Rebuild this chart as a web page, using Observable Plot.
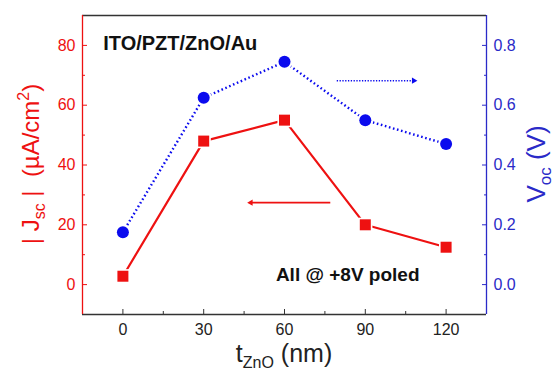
<!DOCTYPE html>
<html>
<head>
<meta charset="utf-8">
<script src="https://cdn.jsdelivr.net/npm/d3@7"></script>
<script src="https://cdn.jsdelivr.net/npm/@observablehq/plot@0.6"></script>
<style>
  html, body { margin: 0; padding: 0; background: #fff; }
  svg { display: block; }
</style>
</head>
<body>
<div id="chart"></div>
<script>
// ---- data ----
const thickness = [0, 30, 60, 90, 120];            // t_ZnO (nm)
const jsc = [2.8, 48, 55, 20, 12.5];                // |Jsc| (µA/cm²)
const voc = [0.175, 0.625, 0.745, 0.55, 0.47];      // Voc (V)

const xTicks = [0, 30, 60, 90, 120];
const xMinor = [15, 45, 75, 105];
const jTicks = [0, 20, 40, 60, 80];
const jMinor = [10, 30, 50, 70];
const vTicks = [0, 0.2, 0.4, 0.6, 0.8];
const vMinor = [0.1, 0.3, 0.5, 0.7];

const xDomain = [-15, 135];
const jDomain = [-10, 90];
const vDomain = [-0.1, 0.9];

// annotations (data units)
const labelStack = ["ITO/PZT/ZnO/Au"];
const labelPoled = ["All @ +8V poled"];
const redArrow = {from: 77, to: 47.5, j: 27.4};
const blueArrow = {from: 79.4, to: 108, v: 0.682};

// ---- styles ----
const RED = "#ee1111";
const BLUE = "#0b0bee";
const BLUE_AX = "#2a2ac8";
const FONT = "Liberation Sans, Arial, Helvetica, sans-serif";

const vToJ = d3.scaleLinear(vDomain, jDomain);
const rows = thickness.map((t, i) => ({t, j: jsc[i], v: voc[i]}));

const svg = Plot.plot({
  width: 556,
  height: 371,
  marginLeft: 82,
  marginRight: 70,
  marginTop: 15,
  marginBottom: 57,
  style: {fontFamily: FONT, background: "#fff", overflow: "visible"},
  x: {domain: xDomain},
  y: {domain: jDomain},
  marks: [
    // frame
    Plot.ruleY([jDomain[1]], {stroke: "#333", strokeWidth: 1.3}),
    Plot.ruleY([jDomain[0]], {stroke: "#333", strokeWidth: 1.3}),
    Plot.ruleX([xDomain[0]], {stroke: RED, strokeWidth: 1.3}),
    Plot.ruleX([xDomain[1]], {stroke: BLUE_AX, strokeWidth: 1.3}),
    // x axis
    Plot.axisX(xTicks, {tickSize: -5, fill: "none", stroke: "#333", label: null}),
    Plot.axisX(xMinor, {tickSize: -3, fill: "none", stroke: "#333", label: null}),
    Plot.axisX(xTicks, {tickSize: 0, tickPadding: 9, fontSize: 16, fill: "#222", label: null}),
    // left axis
    Plot.axisY(jTicks, {anchor: "left", tickSize: -5, fill: "none", stroke: RED, label: null}),
    Plot.axisY(jMinor, {anchor: "left", tickSize: -3, fill: "none", stroke: RED, label: null}),
    Plot.axisY(jTicks, {anchor: "left", tickSize: 0, tickPadding: 7, fontSize: 16, fill: RED, label: null}),
    // right axis
    Plot.axisY(vTicks.map(vToJ), {anchor: "right", tickSize: -5, fill: "none", stroke: BLUE_AX, label: null}),
    Plot.axisY(vMinor.map(vToJ), {anchor: "right", tickSize: -3, fill: "none", stroke: BLUE_AX, label: null}),
    Plot.axisY(vTicks.map(vToJ), {anchor: "right", tickSize: 0, tickPadding: 7, fontSize: 16, fill: BLUE_AX,
      tickFormat: d => vToJ.invert(d).toFixed(1), label: null}),
    // series lines
    Plot.line(rows, {x: "t", y: "j", stroke: RED, strokeWidth: 2.2}),
    Plot.line(rows, {x: "t", y: d => vToJ(d.v), stroke: BLUE, strokeWidth: 2.4,
      strokeDasharray: "1.6,2.6", strokeLinecap: "butt"}),
    // markers with white halo (gap)
    Plot.dot(rows, {x: "t", y: "j", symbol: "square", r: 8, fill: "white"}),
    Plot.dot(rows, {x: "t", y: "j", symbol: "square", r: 6.2, fill: RED}),
    Plot.dot(rows, {x: "t", y: d => vToJ(d.v), r: 8, fill: "white"}),
    Plot.dot(rows, {x: "t", y: d => vToJ(d.v), r: 6, fill: BLUE}),
    // arrows
    Plot.link([redArrow], {x1: "from", x2: "to", y1: "j", y2: "j", stroke: RED, strokeWidth: 1.6}),
    Plot.dot([redArrow], {x: "to", y: "j", symbol: "triangle2", r: 3, fill: RED, rotate: -90}),
    Plot.link([blueArrow], {x1: "from", x2: "to", y1: d => vToJ(d.v), y2: d => vToJ(d.v), stroke: BLUE,
      strokeWidth: 1.6, strokeDasharray: "1.3,1.5", strokeLinecap: "butt"}),
    Plot.dot([blueArrow], {x: "to", y: d => vToJ(d.v), symbol: "triangle2", r: 3, fill: BLUE, rotate: 90}),
    // annotations
    Plot.text(labelStack, {x: -7.3, y: 78.3, text: d => d, textAnchor: "start", lineAnchor: "bottom",
      fontSize: 20, fontWeight: "bold", fill: "#111"}),
    Plot.text(labelPoled, {x: 56.8, y: 1.3, text: d => d, textAnchor: "start", lineAnchor: "bottom",
      fontSize: 19, fontWeight: "bold", fill: "#111"})
  ]
});

const s = d3.select(svg);
// bottom title
const tx = s.append("text").attr("x", 284).attr("y", 362).attr("text-anchor", "middle")
  .attr("font-size", 25).attr("fill", "#222").attr("font-family", FONT);
tx.append("tspan").text("t");
tx.append("tspan").attr("font-size", 16).attr("dy", 5.5).text("ZnO");
tx.append("tspan").attr("dy", -5.5).text(" (nm)");

// left title
const ly = s.append("text").attr("transform", "translate(39,164) rotate(-90)").attr("text-anchor", "middle")
  .attr("font-size", 24).attr("fill", RED).attr("font-family", FONT);
ly.append("tspan").text("| J");
ly.append("tspan").attr("font-size", 16).attr("dy", 6).text("sc");
ly.append("tspan").attr("dy", -6).text(" |  (µA/cm");
ly.append("tspan").attr("font-size", 16).attr("dy", -10).text("2");
ly.append("tspan").attr("dy", 10).text(")");

// right title
const ry = s.append("text").attr("transform", "translate(545,164) rotate(-90)").attr("text-anchor", "middle")
  .attr("font-size", 26).attr("fill", BLUE_AX).attr("font-family", FONT);
ry.append("tspan").text("V");
ry.append("tspan").attr("font-size", 17).attr("dy", 6).text("oc");
ry.append("tspan").attr("dy", -6).text(" (V)");

document.getElementById("chart").appendChild(svg);
</script>
</body>
</html>
